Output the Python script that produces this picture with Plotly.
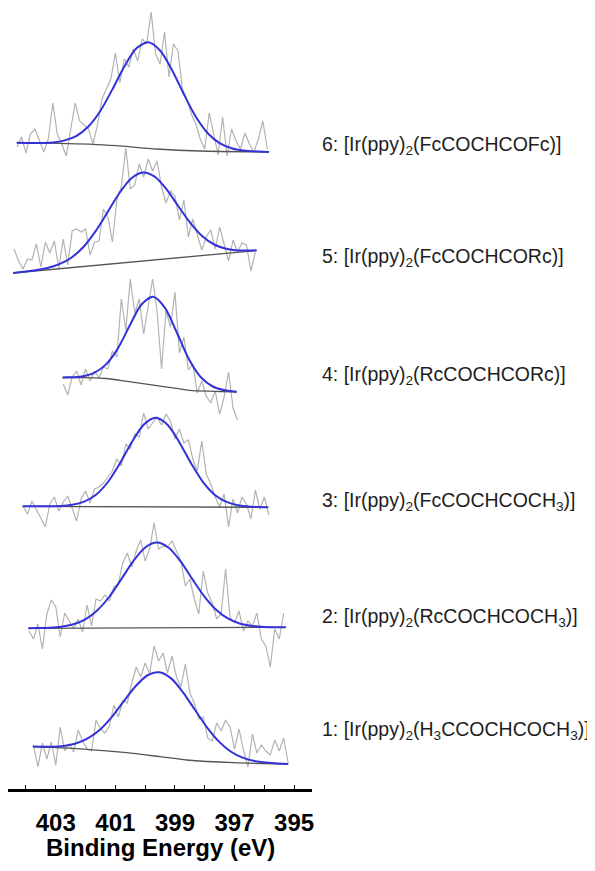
import plotly.graph_objects as go

# ---------------- data (binding energy in eV, intensity in stacked arbitrary units) ----------------
labels = [
    "1: [Ir(ppy)<sub>2</sub>(H<sub>3</sub>CCOCHCOCH<sub>3</sub>)]",
    "2: [Ir(ppy)<sub>2</sub>(RcCOCHCOCH<sub>3</sub>)]",
    "3: [Ir(ppy)<sub>2</sub>(FcCOCHCOCH<sub>3</sub>)]",
    "4: [Ir(ppy)<sub>2</sub>(RcCOCHCORc)]",
    "5: [Ir(ppy)<sub>2</sub>(FcCOCHCORc)]",
    "6: [Ir(ppy)<sub>2</sub>(FcCOCHCOFc)]",
]

major_ticks = [403, 401, 399, 397, 395]
major_text = ["403", "401", "399", "397", "395"]
minor_ticks = [404, 402, 400, 398, 396]

raw_step = 0.15
raw_start = [403.75, 403.90, 404.10, 402.75, 404.40, 404.30]

raw1 = [44, 22, 46, 30, 47, 24, 62, 38, 45, 37, 59, 48, 40, 38, 69, 60, 56, 63, 84, 72,
        88, 86, 106, 122, 112, 126, 115, 143, 128, 136, 116, 133, 112, 102, 125, 96, 86, 70, 72, 51,
        48, 66, 58, 69, 62, 40, 60, 39, 22, 55, 36, 44, 38, 34, 49, 38, 51, 26]
raw2 = [158, 150, 165, 140, 175, 189, 182, 152, 176, 168, 160, 170, 157, 184, 163, 190, 188, 194, 188, 202,
        205, 226, 236, 222, 238, 249, 228, 240, 266, 240, 243, 242, 248, 238, 228, 203, 210, 190, 175, 218,
        196, 186, 170, 175, 220, 172, 166, 178, 158, 168, 163, 176, 150, 143, 122, 160, 150, 176]
raw3 = [283, 275, 288, 279, 270, 262, 285, 292, 278, 287, 293, 280, 268, 290, 298, 286, 300, 302, 306, 312,
        318, 330, 323, 345, 340, 355, 352, 376, 360, 366, 372, 364, 375, 368, 350, 360, 346, 349, 330, 318,
        348, 315, 305, 292, 282, 295, 262, 290, 276, 292, 285, 270, 299, 280, 292, 274]
raw4 = [405, 394, 412, 418, 404, 420, 408, 418, 411, 422, 420, 438, 432, 490, 459, 510, 476, 490, 455, 485,
        510, 478, 420, 478, 462, 497, 436, 452, 419, 425, 396, 408, 393, 386, 398, 375, 392, 417, 381, 369]
raw5 = [540, 528, 520, 530, 529, 545, 522, 547, 536, 548, 521, 550, 524, 558, 560, 557, 560, 534, 547, 548,
        580, 572, 547, 589, 602, 641, 600, 604, 625, 612, 630, 618, 628, 602, 586, 598, 593, 569, 589, 552,
        570, 555, 539, 552, 559, 540, 562, 545, 528, 549, 537, 546, 544, 518, 537]
raw6 = [642, 652, 636, 655, 660, 648, 637, 650, 686, 655, 645, 633, 660, 686, 668, 664, 660, 645, 664, 690,
        700, 710, 736, 706, 730, 722, 740, 728, 750, 745, 777, 735, 725, 757, 712, 745, 738, 700, 690, 675,
        665, 650, 640, 676, 655, 634, 672, 633, 660, 648, 640, 656, 645, 637, 650, 668, 640]
raw_values = [raw1, raw2, raw3, raw4, raw5, raw6]

fit1_e = [403.77, 403.53, 403.13, 402.73, 402.33, 401.93, 401.53, 401.13, 400.73, 400.33, 399.93, 399.53,
          399.13, 398.73, 398.33, 397.93, 397.53, 397.13, 396.73, 396.33, 395.93, 395.53, 395.2]
fit1_y = [42.4, 42.3, 42.3, 43.1, 45.5, 50.6, 59.1, 71.7, 87.3, 102.5, 113.5, 116.7,
          110.6, 96.7, 79.2, 61.9, 47.6, 37.5, 31.4, 28.1, 26.4, 25.5, 25.1]
fit2_e = [403.92, 403.61, 403.21, 402.81, 402.41, 402.01, 401.61, 401.21, 400.81, 400.41, 400.01, 399.61,
          399.21, 398.81, 398.41, 398.01, 397.61, 397.21, 396.81, 396.41, 396.01, 395.61, 395.28]
fit2_y = [160.8, 160.9, 161.3, 162.3, 164.7, 169.7, 178.6, 192.0, 209.4, 227.4, 241.3, 246.5,
          241.3, 227.6, 209.6, 192.4, 179.0, 170.3, 165.3, 163.1, 162.1, 161.8, 161.8]
fit3_e = [404.11, 403.65, 403.25, 402.85, 402.45, 402.05, 401.65, 401.25, 400.85, 400.45, 400.05, 399.65,
          399.25, 398.85, 398.45, 398.05, 397.65, 397.25, 396.85, 396.45, 396.05, 395.87]
fit3_y = [282.7, 282.7, 282.7, 283.0, 284.2, 287.4, 294.3, 307.0, 325.5, 346.8, 364.3, 371.2,
          364.2, 346.6, 325.2, 306.6, 293.8, 286.8, 283.5, 282.3, 281.8, 281.7]
fit4_e = [402.77, 402.53, 402.13, 401.73, 401.33, 400.93, 400.53, 400.13, 399.73, 399.33, 398.93, 398.53,
          398.13, 397.73, 397.33, 396.93]
fit4_y = [411.6, 411.7, 412.6, 415.9, 424.1, 439.9, 462.7, 484.3, 492.3, 480.9, 456.0, 429.8,
          411.8, 402.5, 398.7, 397.3]
fit5_e = [404.43, 404.08, 403.68, 403.28, 402.88, 402.48, 402.08, 401.68, 401.28, 400.88, 400.48, 400.08,
          399.68, 399.28, 398.88, 398.48, 398.08, 397.68, 397.28, 396.88, 396.48, 396.26]
fit5_y = [516.0, 517.2, 518.7, 521.0, 524.8, 531.3, 541.8, 557.1, 575.9, 595.2, 610.2, 616.5,
          612.4, 599.6, 582.5, 565.9, 552.8, 544.5, 540.2, 538.6, 538.5, 538.8]
fit6_e = [404.31, 403.7, 403.1, 402.7, 402.3, 401.9, 401.5, 401.1, 400.7, 400.3, 399.9, 399.5,
          399.1, 398.7, 398.3, 397.9, 397.5, 397.1, 396.7, 396.2, 395.85]
fit6_y = [646.3, 646.1, 646.6, 648.6, 653.2, 662.7, 678.3, 699.6, 722.5, 740.4, 746.7, 738.5,
          719.1, 694.7, 672.2, 655.8, 645.9, 640.8, 638.5, 637.4, 637.0]
fit_e = [fit1_e, fit2_e, fit3_e, fit4_e, fit5_e, fit6_e]
fit_y = [fit1_y, fit2_y, fit3_y, fit4_y, fit5_y, fit6_y]

base1_e = [403.77, 401.96, 400.62, 399.5, 398.6, 397.04, 395.2]
base1_y = [42.3, 39.7, 36.3, 32.3, 29.0, 26.3, 25.0]
base2_e = [403.92, 395.28]
base2_y = [160.7, 161.7]
base3_e = [404.11, 395.87]
base3_y = [282.7, 281.7]
base4_e = [402.77, 402.0, 401.3, 400.6, 399.9, 399.2, 398.5, 397.7, 396.93]
base4_y = [411.5, 411.3, 410.5, 407.6, 404.7, 401.7, 398.7, 397.7, 397.0]
base5_e = [404.43, 396.26]
base5_y = [516.0, 538.5]
base6_e = [404.31, 401.74, 400.96, 399.61, 398.16, 395.84]
base6_y = [646.3, 644.7, 643.3, 640.0, 638.0, 637.0]
base_e = [base1_e, base2_e, base3_e, base4_e, base5_e, base6_e]
base_y = [base1_y, base2_y, base3_y, base4_y, base5_y, base6_y]

# ---------------- styling / layout ----------------
label_y = [58.3, 172.0, 287.3, 413.1, 531.2, 643.3]   # vertical placement of the compound labels
RAW_COLOR = "#b3b3b3"
BASE_COLOR = "#555555"
FIT_COLOR = "#3232d8"
FONT = "Liberation Sans, Arial, Helvetica, sans-serif"

fig = go.Figure()
for k in range(6):
    e = [round(raw_start[k] - raw_step * i, 3) for i in range(len(raw_values[k]))]
    fig.add_trace(go.Scatter(x=e, y=raw_values[k], mode="lines",
                             line=dict(color=RAW_COLOR, width=1.2), hoverinfo="skip", showlegend=False))
for k in range(6):
    fig.add_trace(go.Scatter(x=base_e[k], y=base_y[k], mode="lines",
                             line=dict(color=BASE_COLOR, width=1.3, shape="spline", smoothing=0.7),
                             hoverinfo="skip", showlegend=False))
for k in range(6):
    fig.add_trace(go.Scatter(x=fit_e[k], y=fit_y[k], mode="lines",
                             line=dict(color=FIT_COLOR, width=2.0, shape="spline", smoothing=0.8),
                             hoverinfo="skip", showlegend=False))

for k in range(6):
    fig.add_annotation(text=labels[k], xref="paper", yref="y", x=1.026, y=label_y[k],
                       xanchor="left", yanchor="middle", showarrow=False,
                       font=dict(family=FONT, size=19.5, color="#1e1e1e"))

fig.add_annotation(text="<b>Binding Energy (eV)</b>", xref="paper", yref="paper",
                   x=0.5, y=-0.0745, xanchor="center", yanchor="middle", showarrow=False,
                   font=dict(family=FONT, size=24, color="black"))

# The page body adds an 8 px offset, so the figure is 8 px smaller and the ranges are set accordingly.
fig.update_layout(
    width=587, height=863,
    margin=dict(l=0, r=283, t=0, b=82),
    paper_bgcolor="white", plot_bgcolor="white",
    xaxis=dict(range=[404.604, 394.40], showline=True, linecolor="black", linewidth=2.5,
               ticks="inside", ticklen=4, tickwidth=1.2, tickcolor="black",
               tickmode="array", tickvals=major_ticks, ticktext=major_text,
               minor=dict(tickmode="array", tickvals=minor_ticks, ticks="inside", ticklen=4,
                          tickwidth=1.2, tickcolor="black", showgrid=False),
               tickfont=dict(family=FONT, size=24, color="black", weight="bold"),
               ticklabelstandoff=10,
               showgrid=False, zeroline=False, mirror=False),
    yaxis=dict(range=[0, 781], visible=False, showgrid=False, zeroline=False),
)

fig.write_html("out.html", config={"displayModeBar": False})
